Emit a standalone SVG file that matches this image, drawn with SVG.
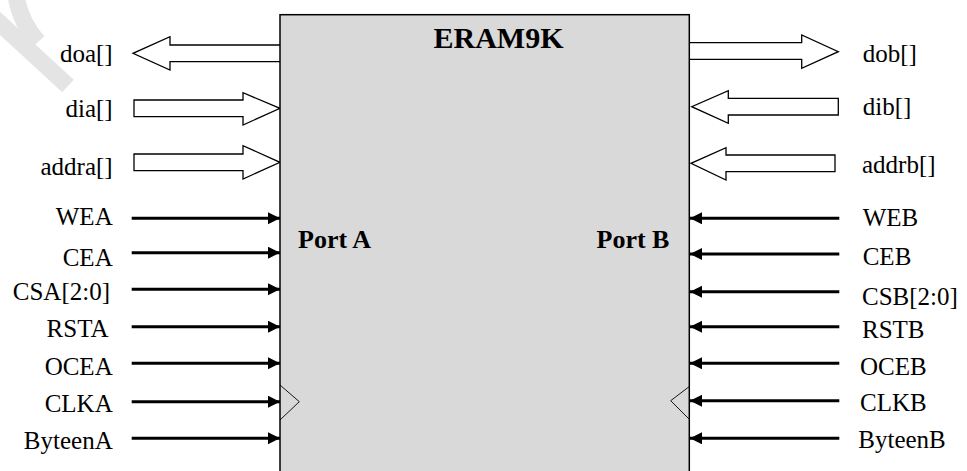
<svg xmlns="http://www.w3.org/2000/svg" width="967" height="471" viewBox="0 0 967 471">
<style>
text{font-family:"Liberation Serif","Times New Roman",serif;fill:#000}
.lbl{font-size:25px}
.ttl{font-weight:bold}
.bus{fill:#fff;stroke:#000;stroke-width:1.3}
.sig{stroke:#000;stroke-width:3;fill:none;marker-end:url(#ah)}
.clk{fill:none;stroke:#000;stroke-width:0.9}
</style>
<defs>
<marker id="ah" markerUnits="userSpaceOnUse" markerWidth="13" markerHeight="13" refX="12" refY="6" orient="auto">
<path d="M0,0 L12,6 L0,12 z" fill="#000"/>
</marker>
</defs>
<g id="watermark" fill="none" stroke="#e4e4e4" stroke-width="17">
<path d="M-8,16 L68,86"/>
<path d="M16,-5 Q20,22 38,42"/>
</g>
<g id="connectors">
<polygon class="bus" points="281,45 170,45 170,36.7 133,53.3 170,70 170,61.7 281,61.7"/>
<polygon class="bus" points="134,100 243,100 243,92.7 280,108.3 243,125 243,116.7 134,116.7"/>
<polygon class="bus" points="134,154 243,154 243,145.7 280,162.3 243,179 243,170.7 134,170.7"/>
<polygon class="bus" points="689,42.7 801.7,42.7 801.7,35 838.3,51.7 801.7,68.3 801.7,59.3 689,59.3"/>
<polygon class="bus" points="838.3,98.3 728.3,98.3 728.3,90.7 691.7,106.7 728.3,123.3 728.3,115 838.3,115"/>
<polygon class="bus" points="835,155 726,155 726,147.7 691,163.3 726,180 726,171.7 835,171.7"/>
</g>
<g id="eram9k">
<rect x="280" y="14.7" width="409.3" height="470" fill="#d9d9d9" stroke="#000" stroke-width="1.5"/>
<text class="ttl" x="498.5" y="48.3" font-family="Liberation Serif, serif" font-size="30" text-anchor="middle">ERAM9K</text>
<text class="ttl" x="298" y="247.7" font-family="Liberation Serif, serif" font-size="26">Port A</text>
<text class="ttl" x="596.5" y="247.7" font-family="Liberation Serif, serif" font-size="26">Port B</text>
<polyline class="clk" points="280,385 299.3,401.7 280,420"/>
<polyline class="clk" points="690,386 670.7,400.7 690,420"/>
</g>
<g id="signals">
<line class="sig" x1="131.7" y1="218.3" x2="280" y2="218.3"/>
<line class="sig" x1="131.7" y1="252.7" x2="280" y2="252.7"/>
<line class="sig" x1="131.7" y1="289.3" x2="280" y2="289.3"/>
<line class="sig" x1="131.7" y1="326.7" x2="280" y2="326.7"/>
<line class="sig" x1="131.7" y1="363.3" x2="280" y2="363.3"/>
<line class="sig" x1="131.7" y1="401.7" x2="280" y2="401.7"/>
<line class="sig" x1="131.7" y1="438.3" x2="280" y2="438.3"/>
<line class="sig" x1="839.3" y1="218.3" x2="690" y2="218.3"/>
<line class="sig" x1="839.3" y1="254" x2="690" y2="254"/>
<line class="sig" x1="839.3" y1="291.7" x2="690" y2="291.7"/>
<line class="sig" x1="839.3" y1="326.7" x2="690" y2="326.7"/>
<line class="sig" x1="839.3" y1="363.3" x2="690" y2="363.3"/>
<line class="sig" x1="839.3" y1="400.7" x2="690" y2="400.7"/>
<line class="sig" x1="839.3" y1="438.3" x2="690" y2="438.3"/>
</g>
<g id="labels-a" class="lbl" font-family="Liberation Serif, serif" text-anchor="end">
<text x="112.7" y="61.7">doa[]</text>
<text x="112.7" y="117">dia[]</text>
<text x="112.7" y="175">addra[]</text>
<text x="112.7" y="225">WEA</text>
<text x="112.7" y="266">CEA</text>
<text x="110" y="300">CSA[2:0]</text>
<text x="108.5" y="336.7">RSTA</text>
<text x="112.7" y="375">OCEA</text>
<text x="112.7" y="411.7">CLKA</text>
<text x="112.7" y="449">ByteenA</text>
</g>
<g id="labels-b" class="lbl" font-family="Liberation Serif, serif">
<text x="862.7" y="61.7">dob[]</text>
<text x="862.7" y="115">dib[]</text>
<text x="862" y="173.3">addrb[]</text>
<text x="862.7" y="226">WEB</text>
<text x="862.7" y="265">CEB</text>
<text x="862" y="305">CSB[2:0]</text>
<text x="862" y="338.3">RSTB</text>
<text x="860" y="375">OCEB</text>
<text x="860" y="411">CLKB</text>
<text x="858.3" y="448.3">ByteenB</text>
</g>
</svg>
